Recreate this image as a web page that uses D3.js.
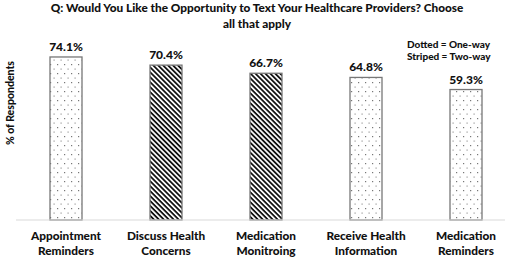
<!DOCTYPE html>
<html>
<head>
<meta charset="utf-8">
<script src="https://cdn.jsdelivr.net/npm/d3@7"></script>
<style>
  body { margin: 0; background: #fff; }
  text { font-family: Lato, "Open Sans", sans-serif; font-weight: 900; fill: #111; }
</style>
</head>
<body>
<svg id="chart"></svg>
<script>
let categories = [["Appointment", "Reminders"], ["Discuss Health", "Concerns"], ["Medication", "Monitroing"], ["Receive Health", "Information"], ["Medication", "Reminders"]];
let values = [74.1, 70.4, 66.7, 64.8, 59.3];
let kinds = ["One-way", "Two-way", "Two-way", "One-way", "One-way"];
let titleLines = ["Q: Would You Like the Opportunity to Text Your Healthcare Providers? Choose", "all that apply"];
let legendLines = ["Dotted = One-way", "Striped = Two-way"];

let width = 513, height = 258;

let svg = d3.select("#chart")
  .attr("width", width)
  .attr("height", height);

let defs = svg.append("defs");

let dots = defs.append("pattern")
  .attr("id", "dots")
  .attr("patternUnits", "userSpaceOnUse")
  .attr("width", 7).attr("height", 9);
dots.append("rect").attr("width", 7).attr("height", 9).attr("fill", "#fff");
dots.append("rect").attr("x", 1).attr("y", 1).attr("width", 1.2).attr("height", 1.2).attr("fill", "#777");
dots.append("rect").attr("x", 4.5).attr("y", 5.5).attr("width", 1.2).attr("height", 1.2).attr("fill", "#999");

let stripes = defs.append("pattern")
  .attr("id", "stripes")
  .attr("patternUnits", "userSpaceOnUse")
  .attr("width", 3.5).attr("height", 3.5)
  .attr("patternTransform", "rotate(45)");
stripes.append("rect").attr("width", 3.5).attr("height", 3.5).attr("fill", "#fff");
stripes.append("rect").attr("width", 3.5).attr("height", 1.8).attr("fill", "#111");

let x = d3.scaleBand()
  .domain(d3.range(values.length))
  .range([16, 516])
  .paddingInner(0.68)
  .paddingOuter(0.34);

let y = d3.scaleLinear()
  .domain([0, 80])
  .range([220, 44]);

// title
svg.append("g").selectAll("text")
  .data(titleLines)
  .join("text")
    .attr("x", 257)
    .attr("y", (d, i) => 12 + i * 16)
    .attr("text-anchor", "middle")
    .style("font-size", "11.8px")
    .text(d => d);

// bars
svg.append("g").selectAll("rect")
  .data(values)
  .join("rect")
    .attr("x", (d, i) => x(i))
    .attr("y", d => y(d))
    .attr("width", x.bandwidth())
    .attr("height", d => y(0) - y(d))
    .attr("fill", (d, i) => kinds[i] == "One-way" ? "url(#dots)" : "url(#stripes)")
    .attr("stroke", "#777")
    .attr("stroke-width", 1.3);

// value labels
svg.append("g").selectAll("text")
  .data(values)
  .join("text")
    .attr("x", (d, i) => x(i) + x.bandwidth() / 2)
    .attr("y", d => y(d) - 6)
    .attr("text-anchor", "middle")
    .style("font-size", "12px")
    .text(d => d.toFixed(1) + "%");

// baseline
svg.append("line")
  .attr("x1", 16).attr("x2", 505)
  .attr("y1", y(0)).attr("y2", y(0))
  .attr("stroke", "#d9d9d9")
  .attr("stroke-width", 1);

// category labels
let cat = svg.append("g").selectAll("text")
  .data(categories)
  .join("text")
    .attr("text-anchor", "middle")
    .style("font-size", "11.8px");
cat.selectAll("tspan")
  .data((d, i) => d.map(t => ({t, i})))
  .join("tspan")
    .attr("x", d => x(d.i) + x.bandwidth() / 2)
    .attr("y", (d, j) => 240 + j * 15)
    .text(d => d.t);

// y label
svg.append("text")
  .attr("transform", "translate(14,103) rotate(-90)")
  .attr("text-anchor", "middle")
  .style("font-size", "10.5px")
  .text("% of Respondents");

// legend
svg.append("g").selectAll("text")
  .data(legendLines)
  .join("text")
    .attr("x", 407)
    .attr("y", (d, i) => 48 + i * 12)
    .style("font-size", "10px")
    .text(d => d);
</script>
</body>
</html>
